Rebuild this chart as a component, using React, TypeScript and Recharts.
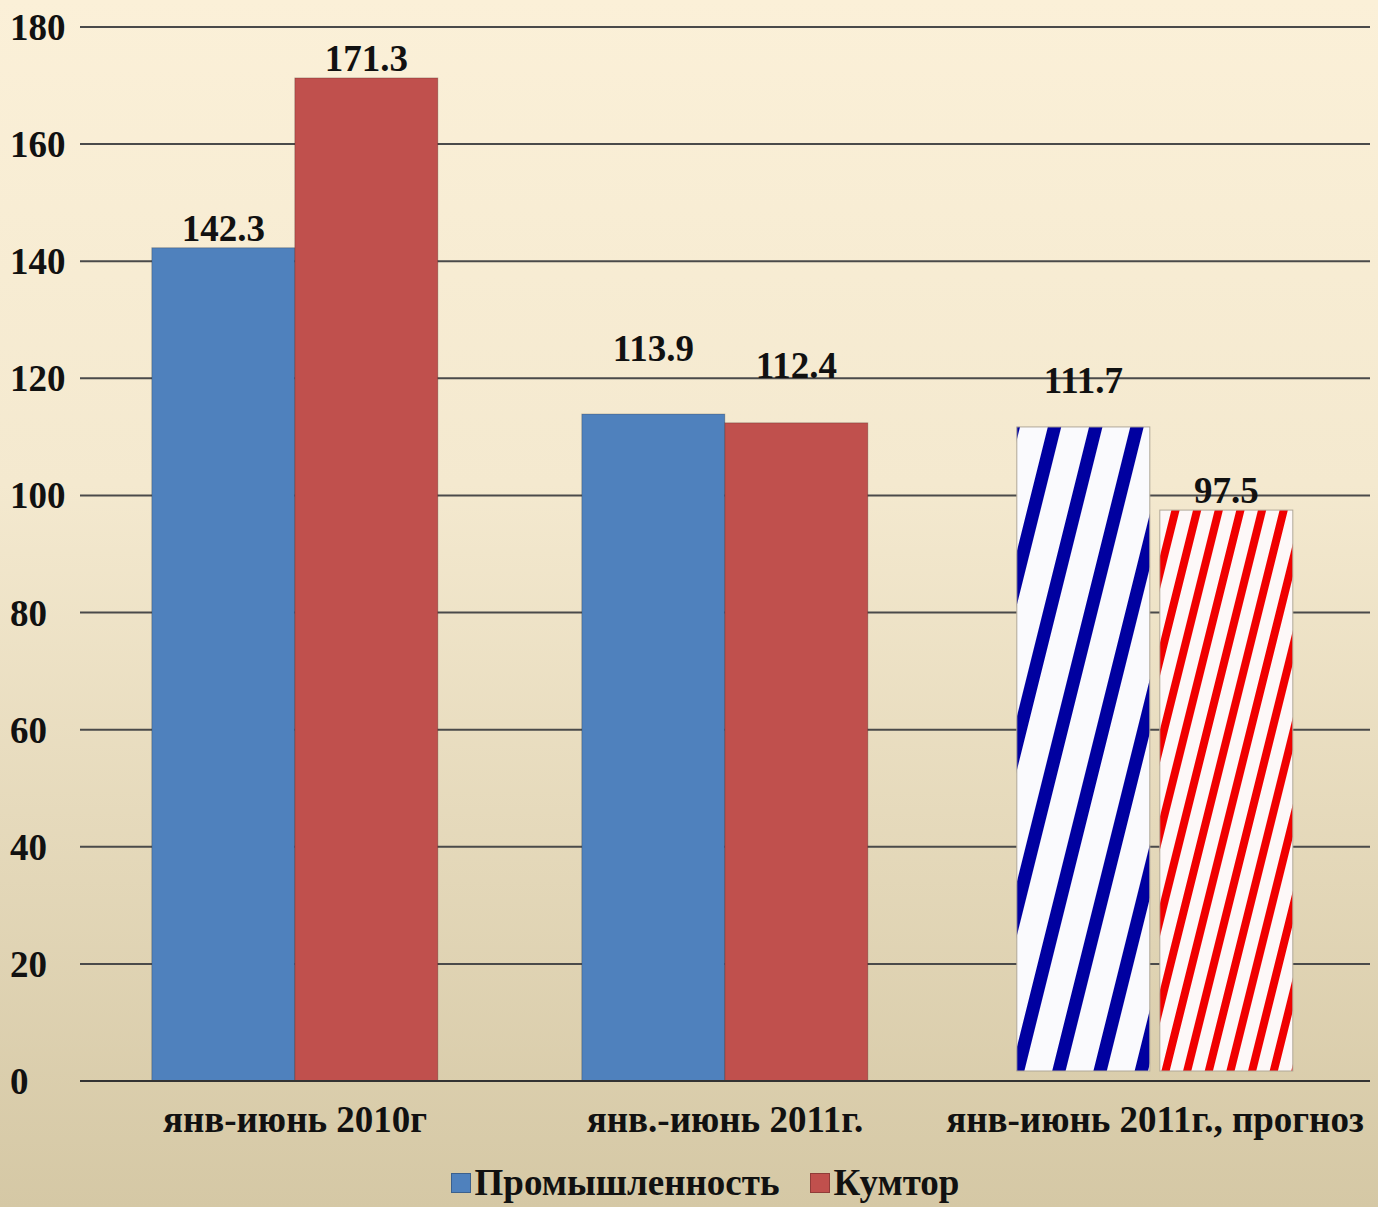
import React from 'react'
import { BarChart, Bar, XAxis, YAxis, CartesianGrid, LabelList, Legend, Cell } from 'recharts'

const CATEGORIES = ['янв-июнь 2010г', 'янв.-июнь 2011г.', 'янв-июнь 2011г., прогноз']
const INDUSTRY = [142.3, 113.9, 111.7]
const KUMTOR = [171.3, 112.4, 97.5]
const FORECAST = [false, false, true]
const Y_TICKS = [0, 20, 40, 60, 80, 100, 120, 140, 160, 180]
const SERIES_NAMES = ['Промышленность', 'Кумтор']

const COLORS = ['#4F81BD', '#C0504D']
const FONT = '"Liberation Serif", "Times New Roman", serif'

// how far above the bar top each value label sits (the original placed them by hand)
const LIFT_INDUSTRY = [20, 66, 47]
const LIFT_KUMTOR = [20, 58, 20]

const data = CATEGORIES.map((name, i) => ({
  name,
  industry: INDUSTRY[i],
  kumtor: KUMTOR[i],
}))

const YTick = ({ y, payload }: any) => (
  <text x={10} y={y} dy="0.35em" textAnchor="start" fontFamily={FONT} fontWeight="bold" fontSize={37} fill="#111">
    {payload.value}
  </text>
)

const XTick = ({ x, y, payload }: any) => (
  <text x={x} y={y + 30} dy="0.35em" textAnchor="middle" fontFamily={FONT} fontWeight="bold" fontSize={37} fill="#111">
    {payload.value}
  </text>
)

const makeLabel = (lifts: number[]) => (props: any) => {
  const { x, y, width, value, index } = props
  return (
    <text
      x={x + width / 2}
      y={y - lifts[index]}
      dy="0.35em"
      textAnchor="middle"
      fontFamily={FONT}
      fontWeight="bold"
      fontSize={37}
      fill="#111"
    >
      {value}
    </text>
  )
}

const makeShape = (pattern: string) => (props: any) => {
  const { x, y, width, height, fill, index } = props
  if (FORECAST[index]) {
    return (
      <rect x={x + 5} y={y} width={width - 10} height={height - 10} fill={`url(#${pattern})`} stroke="#b0a898" strokeWidth={1} />
    )
  }
  return <rect x={x} y={y} width={width} height={height} fill={fill} stroke="rgba(0,0,0,0.22)" strokeWidth={1} />
}

const LegendContent = () => (
  <div style={{ display: 'flex', justifyContent: 'center', alignItems: 'center', gap: 30, fontFamily: FONT, fontWeight: 'bold', fontSize: 37, lineHeight: '40px', color: '#111', paddingTop: 22, marginLeft: 40 }}>
    {SERIES_NAMES.map((n, i) => (
      <div key={n} style={{ display: 'flex', alignItems: 'center', gap: 4 }}>
        <span style={{ width: 18, height: 18, background: COLORS[i], border: '1px solid rgba(0,0,0,0.25)', display: 'inline-block' }} />
        <span>{n}</span>
      </div>
    ))}
  </div>
)

export default function App() {
  return (
    <div
      style={{
        width: 1378,
        height: 1207,
        overflow: 'hidden',
        background: 'linear-gradient(to bottom, #FBF0D8 0%, #F4E9CF 40%, #D5C8A5 100%)',
      }}
    >
      <style>{`body{margin:0}`}</style>
      <BarChart
        width={1378}
        height={1207}
        data={data}
        margin={{ top: 27, right: 8, left: 0, bottom: 0 }}
        barCategoryGap="16.7%"
        barGap={0}
      >
        <defs>
          <pattern id="stripeBlue" patternUnits="userSpaceOnUse" width={40} height={40} patternTransform="rotate(14)">
            <rect width={40} height={40} fill="#FAFAFD" />
            <rect x={0} width={13} height={40} fill="#0000A0" />
          </pattern>
          <pattern id="stripeRed" patternUnits="userSpaceOnUse" width={21} height={21} patternTransform="rotate(14)">
            <rect width={21} height={21} fill="#FDF8F8" />
            <rect x={0} width={8} height={21} fill="#F00000" />
          </pattern>
        </defs>
        <CartesianGrid horizontal vertical={false} stroke="#4a4a4a" strokeWidth={2} />
        <XAxis
          dataKey="name"
          height={60}
          axisLine={{ stroke: '#333', strokeWidth: 2 }}
          tickLine={false}
          tick={<XTick />}
          interval={0}
        />
        <YAxis
          width={80}
          domain={[0, 180]}
          ticks={Y_TICKS}
          axisLine={false}
          tickLine={false}
          tick={<YTick />}
        />
        <Legend verticalAlign="bottom" height={66} content={<LegendContent />} />
        <Bar dataKey="industry" name={SERIES_NAMES[0]} fill={COLORS[0]} isAnimationActive={false} shape={makeShape('stripeBlue')}>
          {data.map((_, i) => (
            <Cell key={i} fill={COLORS[0]} />
          ))}
          <LabelList dataKey="industry" content={makeLabel(LIFT_INDUSTRY)} />
        </Bar>
        <Bar dataKey="kumtor" name={SERIES_NAMES[1]} fill={COLORS[1]} isAnimationActive={false} shape={makeShape('stripeRed')}>
          {data.map((_, i) => (
            <Cell key={i} fill={COLORS[1]} />
          ))}
          <LabelList dataKey="kumtor" content={makeLabel(LIFT_KUMTOR)} />
        </Bar>
      </BarChart>
    </div>
  )
}
